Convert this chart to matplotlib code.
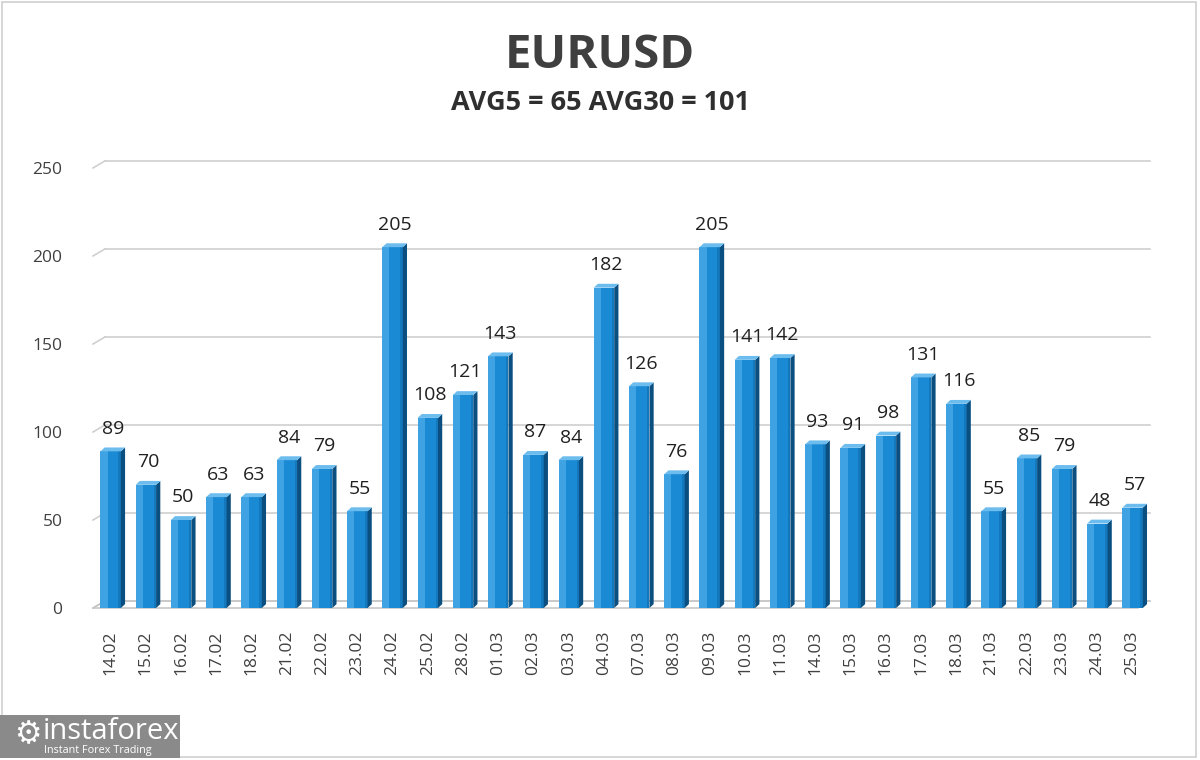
import matplotlib
matplotlib.use("Agg")
import matplotlib.pyplot as plt
from matplotlib.patches import Polygon, Rectangle
import numpy as np

dates = ["14.02", "15.02", "16.02", "17.02", "18.02", "21.02", "22.02", "23.02", "24.02", "25.02",
         "28.02", "01.03", "02.03", "03.03", "04.03", "07.03", "08.03", "09.03", "10.03", "11.03",
         "14.03", "15.03", "16.03", "17.03", "18.03", "21.03", "22.03", "23.03", "24.03", "25.03"]
values = [89, 70, 50, 63, 63, 84, 79, 55, 205, 108,
          121, 143, 87, 84, 182, 126, 76, 205, 141, 142,
          93, 91, 98, 131, 116, 55, 85, 79, 48, 57]
yticks = [0, 50, 100, 150, 200, 250]
title = "EURUSD"
subtitle = "AVG5 = 65 AVG30 = 101"

plt.rcParams['font.family'] = ['Open Sans', 'DejaVu Sans']

fig = plt.figure(figsize=(12, 7.6), dpi=100)
fig.patch.set_facecolor("white")
ax = fig.add_axes([0.0775, 0.2, 0.881, 0.579])
ax.set_xlim(-0.5, len(values) - 0.5)
ax.set_ylim(0, 250)
for s in ax.spines.values():
    s.set_visible(False)
ax.set_facecolor("none")

# 3D-like gridlines
dxg, dyg = 0.34, 4.0
for v in yticks:
    col = "#d0d0d0" if v > 0 else "#c0c0c0"
    ax.plot([-0.5 + dxg, len(values) - 0.5], [v + dyg, v + dyg], color=col, lw=1.2, clip_on=False, zorder=1)
    ax.plot([-0.5, -0.5 + dxg], [v, v + dyg], color=col, lw=1.2, clip_on=False, zorder=1)
ax.plot([-0.5, len(values) - 0.5 - dxg], [0, 0], color="#c8c8c8", lw=1.2, clip_on=False, zorder=1)

w = 0.58
dx, dy = 0.12, 2.2
x = np.arange(len(values))
ax.bar(x, values, width=w, color="#1a8ad4", edgecolor="none", zorder=3)
for xi, v in zip(x, values):
    ax.add_patch(Rectangle((xi - w / 2, 0), w * 0.35, v, facecolor="#3fa2e3", edgecolor="none", zorder=3.1))
    ax.add_patch(Rectangle((xi + w / 2 - w * 0.12, 0), w * 0.12, v, facecolor="#1478bd", edgecolor="none", zorder=3.1))
    side = Polygon([(xi + w / 2, 0), (xi + w / 2 + dx, dy), (xi + w / 2 + dx, v + dy), (xi + w / 2, v)],
                   closed=True, facecolor="#0b4f80", edgecolor="none", zorder=3.2)
    top = Polygon([(xi - w / 2, v), (xi - w / 2 + dx, v + dy), (xi + w / 2 + dx, v + dy), (xi + w / 2, v)],
                  closed=True, facecolor="#6cbcee", edgecolor="none", zorder=3.2)
    ax.add_patch(side)
    ax.add_patch(top)
    ax.annotate(str(v), (xi + dx / 2, v + dy), xytext=(0, 7), textcoords="offset points",
                ha="center", va="bottom", fontsize=14, color="#202020", zorder=4)

ax.set_yticks(yticks)
ax.set_yticklabels([str(t) for t in yticks], fontsize=12.5, color="#404040")
ax.set_xticks(x)
ax.set_xticklabels(dates, rotation=90, fontsize=12.5, color="#404040")
ax.tick_params(axis="both", length=0)
ax.tick_params(axis="x", pad=16)
ax.tick_params(axis="y", pad=22)

fig.text(0.5, 0.927, title, ha="center", va="center", fontsize=34, fontweight="bold", color="#3f3f3f")
fig.text(0.5, 0.864, subtitle, ha="center", va="center", fontsize=19.5, fontweight="bold", color="#2f2f2f")

# outer border
fig.patches.append(Rectangle((0.002, 0.004), 0.995, 0.993, transform=fig.transFigure,
                             facecolor="none", edgecolor="#d0d0d0", lw=1.2))

# logo
fig.patches.append(Rectangle((0.0, 0.003), 0.15, 0.056, transform=fig.transFigure,
                             facecolor="#8a8a8a", edgecolor="none"))
fig.text(0.012, 0.033, "\u2699", fontsize=22, color="white", va="center", ha="left",
         family=["DejaVu Sans"])
fig.text(0.036, 0.037, "instaforex", fontsize=21, color="white", va="center", ha="left")
fig.text(0.037, 0.013, "Instant Forex Trading", fontsize=7.8, color="white", va="center", ha="left")

fig.savefig("out.png", dpi=100)
